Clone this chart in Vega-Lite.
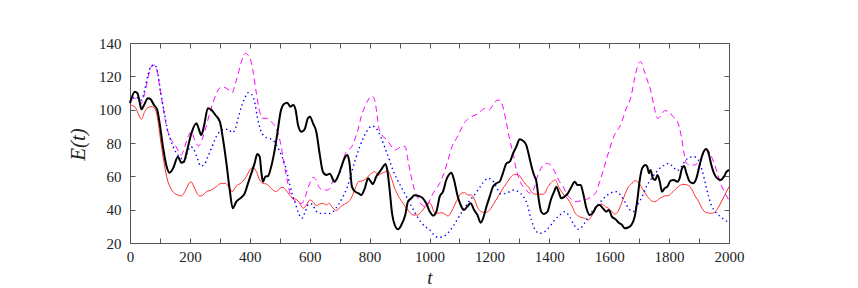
{
  "$schema": "https://vega.github.io/schema/vega-lite/v6.json",
  "width": 599,
  "height": 200,
  "autosize": "none",
  "padding": {"left": 130, "top": 43, "right": 129, "bottom": 45},
  "background": "white",
  "config": {
    "font": "Liberation Serif",
    "view": {"stroke": "#555", "strokeWidth": 1},
    "axis": {
      "labelFont": "Liberation Serif", "labelFontSize": 15, "labelColor": "#222",
      "domain": false, "grid": false, "tickColor": "#555", "tickSize": -5, "tickWidth": 1,
      "titleFont": "Liberation Serif", "titleFontStyle": "italic", "titleFontWeight": "normal",
      "titleFontSize": 21, "titleColor": "#222", "labelFlush": false, "labelOverlap": false
    }
  },
  "datasets": {
    "black": [
      {"t":0,"E":103.8},{"t":16,"E":110.8},{"t":25,"E":109.8},{"t":32,"E":104.8},{"t":38,"E":100.2},{"t":47,"E":102.8},{"t":60,"E":106.8},{"t":69,"E":106.2},{"t":80,"E":102.8},{"t":91,"E":99.8},{"t":99,"E":91.8},{"t":110,"E":77.8},{"t":121,"E":66.8},{"t":132,"E":62.2},{"t":144,"E":64.8},{"t":160,"E":71.8},{"t":171,"E":68.2},{"t":180,"E":68.8},{"t":191,"E":75.8},{"t":205,"E":85.8},{"t":222,"E":91.8},{"t":229,"E":88.8},{"t":238,"E":84.8},{"t":247,"E":90.2},{"t":260,"E":100.8},{"t":272,"E":99.8},{"t":285,"E":96.8},{"t":300,"E":92.8},{"t":311,"E":81.8},{"t":322,"E":67.8},{"t":333,"E":51.8},{"t":343,"E":40.8},{"t":355,"E":44.8},{"t":372,"E":47.4},{"t":383,"E":49.8},{"t":394,"E":55.8},{"t":405,"E":61.8},{"t":416,"E":67.8},{"t":425,"E":73.4},{"t":433,"E":71.8},{"t":439,"E":61.8},{"t":444,"E":56.8},{"t":452,"E":59.8},{"t":461,"E":60.2},{"t":470,"E":64.8},{"t":481,"E":73.8},{"t":492,"E":85.8},{"t":503,"E":98.8},{"t":514,"E":103.4},{"t":525,"E":104.2},{"t":536,"E":101.8},{"t":545,"E":102.8},{"t":553,"E":99.8},{"t":561,"E":90.8},{"t":572,"E":86.8},{"t":583,"E":88.2},{"t":594,"E":94.8},{"t":601,"E":95.8},{"t":611,"E":91.8},{"t":622,"E":86.8},{"t":633,"E":73.8},{"t":644,"E":62.8},{"t":656,"E":60.8},{"t":667,"E":61.5},{"t":683,"E":56.8},{"t":694,"E":59.8},{"t":706,"E":65.8},{"t":715,"E":70.4},{"t":726,"E":72.8},{"t":733,"E":67.8},{"t":741,"E":53.8},{"t":752,"E":50.8},{"t":763,"E":49.8},{"t":772,"E":48.8},{"t":784,"E":52.8},{"t":795,"E":58.8},{"t":804,"E":56.8},{"t":811,"E":55.4},{"t":822,"E":59.8},{"t":834,"E":62.8},{"t":843,"E":65.2},{"t":853,"E":67.4},{"t":859,"E":63.8},{"t":867,"E":51.8},{"t":875,"E":37.8},{"t":884,"E":30.8},{"t":895,"E":28.2},{"t":906,"E":30.8},{"t":919,"E":36.8},{"t":928,"E":44.8},{"t":939,"E":46.8},{"t":950,"E":48.6},{"t":964,"E":48.2},{"t":978,"E":46.8},{"t":989,"E":43.8},{"t":1001,"E":38.8},{"t":1012,"E":36.4},{"t":1023,"E":38.8},{"t":1034,"E":47.8},{"t":1045,"E":50.8},{"t":1056,"E":57.8},{"t":1064,"E":60.8},{"t":1073,"E":62.2},{"t":1082,"E":57.8},{"t":1093,"E":48.8},{"t":1104,"E":42.8},{"t":1115,"E":39.8},{"t":1126,"E":41.8},{"t":1137,"E":43.8},{"t":1149,"E":39.8},{"t":1160,"E":36.8},{"t":1171,"E":32.2},{"t":1179,"E":34.8},{"t":1190,"E":41.8},{"t":1201,"E":47.8},{"t":1212,"E":53.8},{"t":1223,"E":55.8},{"t":1234,"E":56.8},{"t":1245,"E":61.8},{"t":1257,"E":67.8},{"t":1268,"E":68.8},{"t":1279,"E":73.8},{"t":1290,"E":77.8},{"t":1301,"E":82.2},{"t":1312,"E":81.4},{"t":1323,"E":78.8},{"t":1334,"E":71},{"t":1342,"E":65},{"t":1349,"E":60.8},{"t":1357,"E":56.8},{"t":1365,"E":45.8},{"t":1373,"E":38.8},{"t":1382,"E":37.4},{"t":1394,"E":38.8},{"t":1405,"E":45.8},{"t":1416,"E":50.8},{"t":1424,"E":53.8},{"t":1431,"E":50.8},{"t":1440,"E":46.8},{"t":1451,"E":47.8},{"t":1462,"E":49.8},{"t":1474,"E":53.8},{"t":1485,"E":56.8},{"t":1494,"E":54.8},{"t":1505,"E":54.8},{"t":1513,"E":49.8},{"t":1524,"E":40.8},{"t":1535,"E":36.8},{"t":1546,"E":38.2},{"t":1557,"E":41.8},{"t":1568,"E":42.8},{"t":1579,"E":40.8},{"t":1590,"E":38.8},{"t":1599,"E":39.8},{"t":1609,"E":35.8},{"t":1621,"E":34.2},{"t":1632,"E":32.2},{"t":1643,"E":30.8},{"t":1652,"E":28.8},{"t":1663,"E":29.3},{"t":1674,"E":30.8},{"t":1685,"E":35.8},{"t":1694,"E":45.8},{"t":1702,"E":57.8},{"t":1710,"E":64.8},{"t":1721,"E":66.8},{"t":1727,"E":65.8},{"t":1733,"E":61.8},{"t":1738,"E":63.8},{"t":1746,"E":58.8},{"t":1754,"E":57.8},{"t":1761,"E":60.8},{"t":1769,"E":56.8},{"t":1776,"E":50.8},{"t":1785,"E":52.8},{"t":1794,"E":53.8},{"t":1805,"E":57.4},{"t":1816,"E":57.8},{"t":1828,"E":56.8},{"t":1835,"E":58.8},{"t":1843,"E":64.8},{"t":1850,"E":66.2},{"t":1858,"E":61.8},{"t":1869,"E":56.8},{"t":1880,"E":55.8},{"t":1891,"E":58.8},{"t":1902,"E":66.8},{"t":1913,"E":73.8},{"t":1924,"E":76.4},{"t":1932,"E":73.8},{"t":1941,"E":66.8},{"t":1950,"E":61.8},{"t":1961,"E":58.8},{"t":1972,"E":57.8},{"t":1983,"E":59.8},{"t":1992,"E":62.8},{"t":2000,"E":63.8}
    ],
    "red": [
      {"t":0,"E":102.8},{"t":16,"E":101.8},{"t":27,"E":97.8},{"t":38,"E":94.2},{"t":49,"E":98.8},{"t":60,"E":101.2},{"t":73,"E":101.8},{"t":85,"E":99.8},{"t":93,"E":93.8},{"t":102,"E":81.8},{"t":114,"E":67.8},{"t":125,"E":57.8},{"t":136,"E":52.8},{"t":149,"E":49.8},{"t":160,"E":48.8},{"t":171,"E":48.2},{"t":183,"E":50.8},{"t":194,"E":54.8},{"t":203,"E":56.8},{"t":211,"E":54.8},{"t":221,"E":50.8},{"t":233,"E":48.2},{"t":244,"E":48.8},{"t":255,"E":50.8},{"t":272,"E":51.8},{"t":288,"E":53.8},{"t":305,"E":55.8},{"t":318,"E":55.8},{"t":331,"E":53.3},{"t":341,"E":50.8},{"t":355,"E":54.2},{"t":372,"E":56.2},{"t":388,"E":59.8},{"t":400,"E":63.8},{"t":411,"E":65.4},{"t":422,"E":62.8},{"t":433,"E":57.8},{"t":444,"E":55.8},{"t":455,"E":55.4},{"t":466,"E":53.8},{"t":477,"E":51.8},{"t":489,"E":50.8},{"t":500,"E":52.8},{"t":511,"E":53.4},{"t":522,"E":51.4},{"t":533,"E":48.8},{"t":544,"E":46.8},{"t":555,"E":46.2},{"t":567,"E":43.8},{"t":578,"E":40.8},{"t":589,"E":42.8},{"t":600,"E":45.8},{"t":611,"E":44.8},{"t":622,"E":42.4},{"t":633,"E":43.4},{"t":644,"E":43.8},{"t":656,"E":42.8},{"t":665,"E":43.8},{"t":674,"E":41.8},{"t":689,"E":39.4},{"t":703,"E":41.8},{"t":717,"E":43.4},{"t":730,"E":44.8},{"t":741,"E":47.8},{"t":752,"E":52.8},{"t":763,"E":56.8},{"t":778,"E":57.4},{"t":792,"E":59.4},{"t":804,"E":61.4},{"t":817,"E":62.8},{"t":830,"E":60.8},{"t":841,"E":61.8},{"t":853,"E":62.8},{"t":861,"E":63.2},{"t":873,"E":58.8},{"t":884,"E":52.8},{"t":897,"E":47.8},{"t":912,"E":43.8},{"t":928,"E":39.8},{"t":945,"E":36.8},{"t":959,"E":36.8},{"t":973,"E":38.8},{"t":986,"E":41.8},{"t":998,"E":44.3},{"t":1006,"E":42.8},{"t":1017,"E":38.2},{"t":1028,"E":37.8},{"t":1040,"E":38.2},{"t":1051,"E":37.4},{"t":1062,"E":36.2},{"t":1073,"E":38.8},{"t":1084,"E":42.8},{"t":1095,"E":46.8},{"t":1106,"E":49.8},{"t":1117,"E":50.2},{"t":1129,"E":48.8},{"t":1140,"E":48.8},{"t":1151,"E":45.8},{"t":1162,"E":40.8},{"t":1173,"E":38.8},{"t":1186,"E":38.2},{"t":1201,"E":39.8},{"t":1215,"E":43.8},{"t":1229,"E":47.8},{"t":1242,"E":51.8},{"t":1257,"E":55.8},{"t":1271,"E":59.4},{"t":1284,"E":61.2},{"t":1298,"E":60.8},{"t":1309,"E":58.2},{"t":1320,"E":55.4},{"t":1331,"E":53.5},{"t":1340,"E":50.8},{"t":1351,"E":49.4},{"t":1368,"E":49.2},{"t":1382,"E":49.4},{"t":1396,"E":53.8},{"t":1409,"E":56.8},{"t":1420,"E":57.8},{"t":1431,"E":53.8},{"t":1446,"E":49.4},{"t":1460,"E":46.8},{"t":1474,"E":42.8},{"t":1487,"E":37.8},{"t":1501,"E":35.8},{"t":1518,"E":34.8},{"t":1531,"E":33.8},{"t":1540,"E":35.8},{"t":1552,"E":39.8},{"t":1565,"E":42.8},{"t":1576,"E":43.4},{"t":1587,"E":41.8},{"t":1598,"E":40.8},{"t":1609,"E":38.8},{"t":1621,"E":37.4},{"t":1632,"E":39.8},{"t":1643,"E":44.8},{"t":1654,"E":49.8},{"t":1665,"E":54},{"t":1674,"E":55.4},{"t":1687,"E":57.4},{"t":1698,"E":56.2},{"t":1710,"E":52.8},{"t":1724,"E":48.8},{"t":1738,"E":45.8},{"t":1752,"E":44.8},{"t":1769,"E":46.8},{"t":1785,"E":48.2},{"t":1796,"E":48.4},{"t":1813,"E":50.8},{"t":1830,"E":53.8},{"t":1846,"E":55.2},{"t":1861,"E":54.8},{"t":1874,"E":52.8},{"t":1885,"E":48.8},{"t":1899,"E":44.8},{"t":1910,"E":40.8},{"t":1924,"E":38.2},{"t":1941,"E":37.8},{"t":1954,"E":38.8},{"t":1969,"E":42.8},{"t":1983,"E":47.8},{"t":2000,"E":53.8}
    ],
    "magenta": [
      {"t":0,"E":105.8},{"t":16,"E":106.8},{"t":27,"E":105.8},{"t":38,"E":103.8},{"t":49,"E":109.8},{"t":60,"E":118.8},{"t":71,"E":125.8},{"t":82,"E":126.8},{"t":91,"E":122.8},{"t":99,"E":113.8},{"t":110,"E":101.8},{"t":121,"E":90.8},{"t":132,"E":83.8},{"t":147,"E":79.8},{"t":160,"E":75.8},{"t":171,"E":72.8},{"t":183,"E":77.8},{"t":194,"E":83.8},{"t":205,"E":86.8},{"t":216,"E":81.8},{"t":229,"E":78.2},{"t":240,"E":81.8},{"t":251,"E":87.8},{"t":266,"E":97.8},{"t":280,"E":105.8},{"t":294,"E":111.8},{"t":308,"E":113.8},{"t":322,"E":112.8},{"t":333,"E":111.5},{"t":341,"E":110.2},{"t":352,"E":115.8},{"t":363,"E":122.8},{"t":374,"E":129.8},{"t":385,"E":133.8},{"t":394,"E":132.8},{"t":403,"E":129.8},{"t":412,"E":121.8},{"t":422,"E":109.8},{"t":433,"E":98.8},{"t":444,"E":94.8},{"t":459,"E":94.8},{"t":472,"E":92.8},{"t":486,"E":89.4},{"t":496,"E":84.8},{"t":505,"E":77.8},{"t":514,"E":67.8},{"t":525,"E":57.8},{"t":536,"E":48.8},{"t":548,"E":45.8},{"t":561,"E":43.8},{"t":574,"E":43.8},{"t":585,"E":47.8},{"t":600,"E":55.8},{"t":611,"E":59.4},{"t":620,"E":58.2},{"t":630,"E":53.8},{"t":644,"E":51.8},{"t":659,"E":51.8},{"t":668,"E":53},{"t":674,"E":55.8},{"t":689,"E":59.8},{"t":703,"E":62.8},{"t":717,"E":72.8},{"t":728,"E":75.8},{"t":739,"E":77.4},{"t":750,"E":81.8},{"t":761,"E":87.8},{"t":772,"E":95.8},{"t":784,"E":101.8},{"t":795,"E":105.8},{"t":806,"E":108.2},{"t":815,"E":106.8},{"t":822,"E":100.8},{"t":830,"E":89.8},{"t":841,"E":84.8},{"t":856,"E":82.2},{"t":870,"E":78.8},{"t":884,"E":75.8},{"t":897,"E":76.8},{"t":908,"E":78.2},{"t":919,"E":77.8},{"t":928,"E":69.8},{"t":939,"E":59.8},{"t":950,"E":51.8},{"t":962,"E":46.8},{"t":975,"E":42.8},{"t":989,"E":41.8},{"t":998,"E":44.3},{"t":1006,"E":47.8},{"t":1019,"E":51.8},{"t":1034,"E":55.8},{"t":1048,"E":61.8},{"t":1062,"E":69.8},{"t":1075,"E":77.8},{"t":1090,"E":82.8},{"t":1104,"E":87.8},{"t":1117,"E":92.2},{"t":1131,"E":94.8},{"t":1145,"E":96.2},{"t":1160,"E":97.4},{"t":1173,"E":99.4},{"t":1186,"E":100.8},{"t":1198,"E":99.8},{"t":1212,"E":102.8},{"t":1223,"E":105.4},{"t":1234,"E":105.8},{"t":1245,"E":101.8},{"t":1257,"E":91.8},{"t":1268,"E":81.8},{"t":1279,"E":73.8},{"t":1290,"E":63.8},{"t":1301,"E":57.8},{"t":1312,"E":53.8},{"t":1323,"E":51.8},{"t":1334,"E":50},{"t":1343,"E":50.5},{"t":1351,"E":53.8},{"t":1362,"E":60.8},{"t":1376,"E":65.8},{"t":1390,"E":67.8},{"t":1405,"E":66.8},{"t":1418,"E":62.8},{"t":1431,"E":57.8},{"t":1446,"E":53.8},{"t":1460,"E":48.8},{"t":1474,"E":46.2},{"t":1490,"E":44.8},{"t":1507,"E":45.4},{"t":1524,"E":46.2},{"t":1540,"E":47.8},{"t":1557,"E":50.8},{"t":1568,"E":56.8},{"t":1579,"E":62.8},{"t":1590,"E":69.8},{"t":1602,"E":76.8},{"t":1613,"E":82.8},{"t":1624,"E":86.8},{"t":1635,"E":89.8},{"t":1646,"E":94.8},{"t":1657,"E":100.8},{"t":1666,"E":104},{"t":1674,"E":108.8},{"t":1685,"E":118.8},{"t":1696,"E":126.8},{"t":1705,"E":128.8},{"t":1716,"E":123.8},{"t":1727,"E":117.8},{"t":1738,"E":111.8},{"t":1750,"E":101.8},{"t":1761,"E":94.8},{"t":1772,"E":96.2},{"t":1785,"E":99.4},{"t":1799,"E":98.8},{"t":1813,"E":95.8},{"t":1828,"E":92.8},{"t":1841,"E":83.8},{"t":1850,"E":73.8},{"t":1858,"E":67.8},{"t":1872,"E":66.8},{"t":1885,"E":66.8},{"t":1899,"E":68.8},{"t":1913,"E":72.8},{"t":1928,"E":75.8},{"t":1939,"E":72.8},{"t":1950,"E":68},{"t":1961,"E":62},{"t":1974,"E":54.8},{"t":1990,"E":48.8},{"t":2000,"E":45.8}
    ],
    "blue": [
      {"t":0,"E":104.8},{"t":16,"E":107.8},{"t":27,"E":106.8},{"t":38,"E":105.8},{"t":49,"E":111.8},{"t":60,"E":120.8},{"t":71,"E":126.2},{"t":82,"E":126.8},{"t":93,"E":121.8},{"t":102,"E":110.8},{"t":114,"E":98.8},{"t":125,"E":87.8},{"t":136,"E":81.8},{"t":149,"E":75.8},{"t":160,"E":72.8},{"t":171,"E":70.8},{"t":180,"E":68.5},{"t":191,"E":73.8},{"t":203,"E":77.8},{"t":214,"E":75.8},{"t":225,"E":70.8},{"t":236,"E":66.2},{"t":247,"E":66.8},{"t":260,"E":71.8},{"t":274,"E":77.8},{"t":288,"E":83.8},{"t":303,"E":87.4},{"t":316,"E":88.2},{"t":329,"E":88.2},{"t":341,"E":86.2},{"t":350,"E":87.8},{"t":361,"E":94.8},{"t":372,"E":101.8},{"t":383,"E":106.8},{"t":394,"E":110.2},{"t":405,"E":109.4},{"t":416,"E":104.8},{"t":425,"E":95.8},{"t":436,"E":87.8},{"t":450,"E":83.8},{"t":463,"E":82.8},{"t":477,"E":81.8},{"t":492,"E":77.8},{"t":505,"E":72.8},{"t":519,"E":65.8},{"t":530,"E":57.8},{"t":541,"E":49.8},{"t":552,"E":43.8},{"t":563,"E":37.8},{"t":574,"E":34.8},{"t":585,"E":38.8},{"t":597,"E":43.4},{"t":608,"E":43.4},{"t":619,"E":39.8},{"t":633,"E":37.8},{"t":650,"E":37.8},{"t":664,"E":37.6},{"t":678,"E":38.8},{"t":695,"E":42.8},{"t":711,"E":47.8},{"t":726,"E":53.8},{"t":739,"E":61.8},{"t":752,"E":69.8},{"t":767,"E":77.8},{"t":781,"E":83.8},{"t":795,"E":88.2},{"t":808,"E":90.2},{"t":822,"E":88.8},{"t":837,"E":83.8},{"t":850,"E":77.8},{"t":864,"E":70.8},{"t":878,"E":63.8},{"t":893,"E":57.8},{"t":908,"E":52.8},{"t":923,"E":47.8},{"t":939,"E":42.2},{"t":956,"E":36.8},{"t":973,"E":32.2},{"t":989,"E":29.4},{"t":998,"E":28.5},{"t":1012,"E":25.4},{"t":1028,"E":23.4},{"t":1045,"E":23.8},{"t":1062,"E":26.2},{"t":1078,"E":29.8},{"t":1095,"E":34.8},{"t":1112,"E":39.8},{"t":1129,"E":44.2},{"t":1145,"E":47.8},{"t":1162,"E":51.8},{"t":1179,"E":56.2},{"t":1195,"E":58.8},{"t":1209,"E":57.8},{"t":1223,"E":53.8},{"t":1238,"E":49.4},{"t":1253,"E":49.8},{"t":1268,"E":50.8},{"t":1282,"E":51.8},{"t":1296,"E":50.8},{"t":1312,"E":48.2},{"t":1327,"E":42.8},{"t":1340,"E":33.8},{"t":1353,"E":27.8},{"t":1368,"E":25.8},{"t":1385,"E":26.8},{"t":1401,"E":29.8},{"t":1418,"E":33.8},{"t":1435,"E":36.8},{"t":1451,"E":38.8},{"t":1468,"E":35.8},{"t":1483,"E":30.8},{"t":1496,"E":28.2},{"t":1509,"E":29.8},{"t":1524,"E":33.8},{"t":1540,"E":38.2},{"t":1557,"E":41.8},{"t":1574,"E":45.4},{"t":1590,"E":48.2},{"t":1607,"E":50.2},{"t":1624,"E":50.8},{"t":1638,"E":48.8},{"t":1652,"E":44.8},{"t":1666,"E":40.5},{"t":1680,"E":38.8},{"t":1694,"E":42.8},{"t":1710,"E":47.8},{"t":1724,"E":53.8},{"t":1738,"E":57.8},{"t":1754,"E":61.8},{"t":1769,"E":64.8},{"t":1785,"E":66.8},{"t":1799,"E":67.8},{"t":1813,"E":65.8},{"t":1828,"E":63.4},{"t":1841,"E":65.8},{"t":1854,"E":69.4},{"t":1869,"E":71.4},{"t":1883,"E":71.8},{"t":1897,"E":69.8},{"t":1910,"E":63.8},{"t":1921,"E":55.8},{"t":1932,"E":47.8},{"t":1943,"E":41.8},{"t":1954,"E":38.8},{"t":1969,"E":36.2},{"t":1986,"E":33.8},{"t":2000,"E":32.2}
    ]
  },
  "layer": [
    {
      "data": {"name": "red"},
      "mark": {"type": "line", "color": "#ff3030", "strokeWidth": 1, "interpolate": "monotone"},
      "encoding": {
        "x": {"field": "t", "type": "quantitative", "scale": {"domain": [0, 2000], "nice": false},
              "axis": {"orient": "top", "values": [0,100,200,300,400,500,600,700,800,900,1000,1100,1200,1300,1400,1500,1600,1700,1800,1900,2000], "labels": false, "title": null}},
        "y": {"field": "E", "type": "quantitative", "scale": {"domain": [20, 140], "nice": false, "zero": false},
              "axis": {"orient": "right", "values": [20,40,60,80,100,120,140], "labels": false, "title": null}}
      }
    },
    {
      "data": {"name": "magenta"},
      "mark": {"type": "line", "color": "#ff00ff", "strokeWidth": 1, "strokeDash": [6, 4], "interpolate": "monotone"},
      "encoding": {
        "x": {"field": "t", "type": "quantitative", "axis": null},
        "y": {"field": "E", "type": "quantitative", "axis": null}
      }
    },
    {
      "data": {"name": "blue"},
      "mark": {"type": "line", "color": "#0000ff", "strokeWidth": 1.4, "strokeDash": [1.4, 3.2], "interpolate": "monotone"},
      "encoding": {
        "x": {"field": "t", "type": "quantitative", "axis": null},
        "y": {"field": "E", "type": "quantitative", "axis": null}
      }
    },
    {
      "data": {"name": "black"},
      "mark": {"type": "line", "color": "#000000", "strokeWidth": 2, "interpolate": "monotone"},
      "encoding": {
        "x": {"field": "t", "type": "quantitative",
              "axis": {"orient": "bottom", "values": [0,100,200,300,400,500,600,700,800,900,1000,1100,1200,1300,1400,1500,1600,1700,1800,1900,2000],
                       "format": "d", "labelExpr": "datum.value % 200 == 0 ? datum.label : ''", "labelPadding": 11, "title": "t", "titleFontSize": 19, "titleBaseline": "alphabetic", "titleY": 40}},
        "y": {"field": "E", "type": "quantitative",
              "axis": {"orient": "left", "values": [20,40,60,80,100,120,140], "labelPadding": 14, "title": "E(t)", "titleX": -42, "titleY": 101}}
      }
    }
  ],
  "resolve": {"axis": {"x": "independent", "y": "independent"}}
}
